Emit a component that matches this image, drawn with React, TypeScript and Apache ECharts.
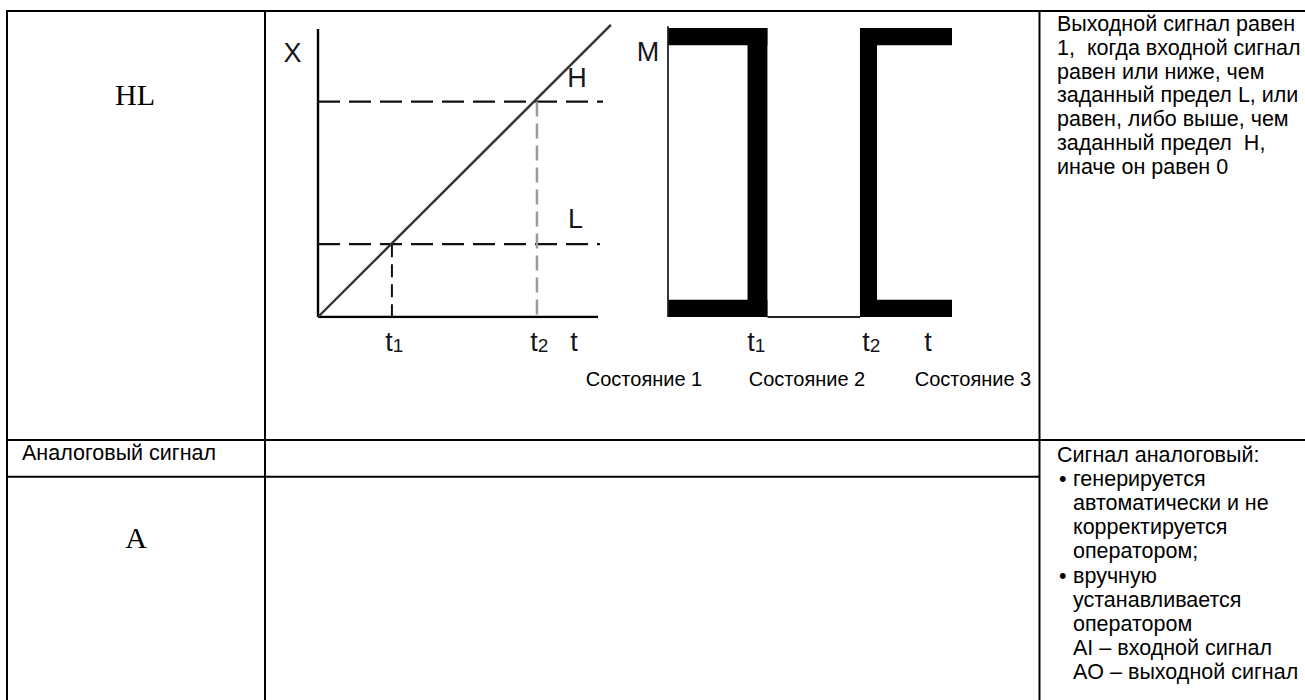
import React, { useEffect, useRef } from "react";
import * as echarts from "echarts";

// ---- Left diagram: input X over time t ----
const axisT = [0, 100];
const axisX = [0, 100];
const rampT = [0, 104.6];
const rampX = [0, 101.4];
const limitH = 74.8;
const limitL = 25.3;
const hLineEnd = 101.8;
const lLineEnd = 100.7;
const t1Left = 26.4;
const t2Left = 78.2;

// ---- Right diagram: output M over time t, blocks [t0, t1, y0, y1] ----
const outputBlocks = [
  [0, 35, 94, 100],
  [28, 35, 0, 100],
  [0, 35, 0, 6],
  [67.6, 73.6, 0, 100],
  [67.6, 100, 94, 100],
  [67.6, 100, 0, 6],
];
const outputLeftEdge = [
  [0, 0],
  [0, 100.6],
];
const outputZero = [
  [35, 0],
  [67.6, 0],
];

// ---- Texts ----
const stateLabels = ["Состояние 1", "Состояние 2", "Состояние 3"];
const hlDescription = [
  "Выходной сигнал равен",
  "1,  когда входной сигнал",
  "равен или ниже, чем",
  "заданный предел L, или",
  "равен, либо выше, чем",
  "заданный предел  H,",
  "иначе он равен 0",
];
const analogTitle = "Аналоговый сигнал";
const analogDescription: [string, boolean, boolean][] = [
  ["Сигнал аналоговый:", false, false],
  ["генерируется", true, true],
  ["автоматически и не", false, true],
  ["корректируется", false, true],
  ["оператором;", false, true],
  ["вручную", true, true],
  ["устанавливается", false, true],
  ["оператором", false, true],
  ["AI – входной сигнал", false, true],
  ["AO – выходной сигнал", false, true],
];

const SANS = "'Liberation Sans', Arial, sans-serif";
const SERIF = "'Liberation Serif', 'Times New Roman', serif";
const LABEL_COLOR = "#15151f";
const DESC_SIZE = 21.5;

function txt(
  text: string,
  x: number,
  y: number,
  size: number,
  align: string = "left",
  family: string = SANS,
  fill: string = "#000"
) {
  return {
    type: "text",
    x,
    y,
    silent: true,
    style: {
      text,
      fontSize: size,
      fontFamily: family,
      fill,
      align,
      verticalAlign: "middle",
      textAlign: align,
      textVerticalAlign: "middle",
    },
  };
}

function line(x1: number, y1: number, x2: number, y2: number, w = 2) {
  return {
    type: "line",
    silent: true,
    shape: { x1, y1, x2, y2 },
    style: { stroke: "#000", lineWidth: w },
  };
}

function sub(base: string, digit: string, x: number, y: number) {
  return [
    txt(base, x, y, 27, "center", SANS, LABEL_COLOR),
    txt(digit, x + 9, y + 3, 19, "center", SANS, LABEL_COLOR),
  ];
}

function seg(data: number[][], color: string, width: number, type: any = "solid", axis = 0) {
  return {
    type: "line",
    xAxisIndex: axis,
    yAxisIndex: axis,
    symbol: "none",
    silent: true,
    data,
    lineStyle: { color, width, type },
  };
}

export default function App() {
  const ref = useRef<HTMLDivElement>(null);

  useEffect(() => {
    document.body.style.margin = "0";
    if (!ref.current) return;
    const chart = echarts.init(ref.current, undefined, { renderer: "svg" });

    const graphics: any[] = [];
    // table grid
    graphics.push(line(6, 11, 1305, 11));
    graphics.push(line(7, 10, 7, 700));
    graphics.push(line(265, 10, 265, 700));
    graphics.push(line(1039.5, 10, 1039.5, 700));
    graphics.push(line(6, 440, 1305, 440));
    graphics.push(line(6, 476.7, 1039.5, 476.7));

    // column 1
    graphics.push(txt("HL", 135, 94, 30, "center", SERIF));
    graphics.push(txt(analogTitle, 22, 453, DESC_SIZE));
    graphics.push(txt("A", 136, 537, 30, "center", SERIF));

    // column 3 descriptions
    hlDescription.forEach((s, i) => graphics.push(txt(s, 1057, 24 + i * 23.8, DESC_SIZE)));
    analogDescription.forEach(([s, bullet, indent], i) => {
      const y = 455 + i * 24.1;
      if (bullet) graphics.push(txt("•", 1059, y, DESC_SIZE));
      graphics.push(txt(s, indent ? 1073 : 1057, y, DESC_SIZE));
    });

    // diagram labels
    graphics.push(txt("X", 292.5, 53, 27, "center", SANS, LABEL_COLOR));
    graphics.push(txt("H", 577, 77.5, 27, "center", SANS, LABEL_COLOR));
    graphics.push(txt("L", 575.5, 219, 27, "center", SANS, LABEL_COLOR));
    graphics.push(txt("M", 648, 52, 27, "center", SANS, LABEL_COLOR));
    graphics.push(...sub("t", "1", 389, 342));
    graphics.push(...sub("t", "2", 534, 342));
    graphics.push(txt("t", 574, 342, 27, "center", SANS, LABEL_COLOR));
    graphics.push(...sub("t", "1", 751, 342));
    graphics.push(...sub("t", "2", 866, 342));
    graphics.push(txt("t", 928, 342, 27, "center", SANS, LABEL_COLOR));

    const stateX = [644, 807, 973];
    stateLabels.forEach((s, i) => graphics.push(txt(s, stateX[i], 378.5, 20, "center")));

    // left grid: 2.8 px per t unit, 2.88 px per X unit; extended so the ramp is not clipped
    const leftXMax = 110;
    const leftYMax = 105;

    chart.setOption({
      animation: false,
      backgroundColor: "#fff",
      grid: [
        { left: 318, top: 317 - leftYMax * 2.88, width: leftXMax * 2.8, height: leftYMax * 2.88 },
        { left: 668, top: 28, width: 284, height: 289 },
      ],
      xAxis: [
        { type: "value", min: 0, max: leftXMax, show: false, gridIndex: 0 },
        { type: "value", min: 0, max: 100, show: false, gridIndex: 1 },
      ],
      yAxis: [
        { type: "value", min: 0, max: leftYMax, show: false, gridIndex: 0 },
        { type: "value", min: 0, max: 100, show: false, gridIndex: 1 },
      ],
      series: [
        // axes of the left diagram
        seg([[axisT[0], 0], [axisT[1], 0]], "#000", 2.4),
        seg([[0, axisX[0]], [0, axisX[1]]], "#000", 2.4),
        // limits
        seg([[0, limitH], [hLineEnd, limitH]], "#111", 2.4, [22, 9]),
        seg([[0, limitL], [lLineEnd, limitL]], "#111", 2.4, [22, 9]),
        seg([[t1Left, limitL], [t1Left, 0]], "#111", 2, [13, 7]),
        seg([[t2Left, limitH], [t2Left, 0]], "#9a9a9a", 2.5, [15, 7]),
        // input ramp
        seg(rampT.map((t, i) => [t, rampX[i]]), "#333", 2.4),
        // output M
        {
          type: "custom",
          xAxisIndex: 1,
          yAxisIndex: 1,
          silent: true,
          encode: { x: [0, 1], y: [2, 3] },
          data: outputBlocks,
          renderItem: (params: any, api: any) => {
            const p0 = api.coord([api.value(0), api.value(3)]);
            const p1 = api.coord([api.value(1), api.value(2)]);
            return {
              type: "rect",
              shape: { x: p0[0], y: p0[1], width: p1[0] - p0[0], height: p1[1] - p0[1] },
              style: { fill: "#000" },
            };
          },
        },
        { ...seg(outputLeftEdge, "#222", 1.8, "solid", 1), clip: false },
        seg(outputZero, "#222", 1.8, "solid", 1),
      ],
      graphic: graphics,
    });

    return () => chart.dispose();
  }, []);

  return (
    <div
      ref={ref}
      style={{ position: "fixed", left: 0, top: 0, width: 1305, height: 700, background: "#fff" }}
    />
  );
}
